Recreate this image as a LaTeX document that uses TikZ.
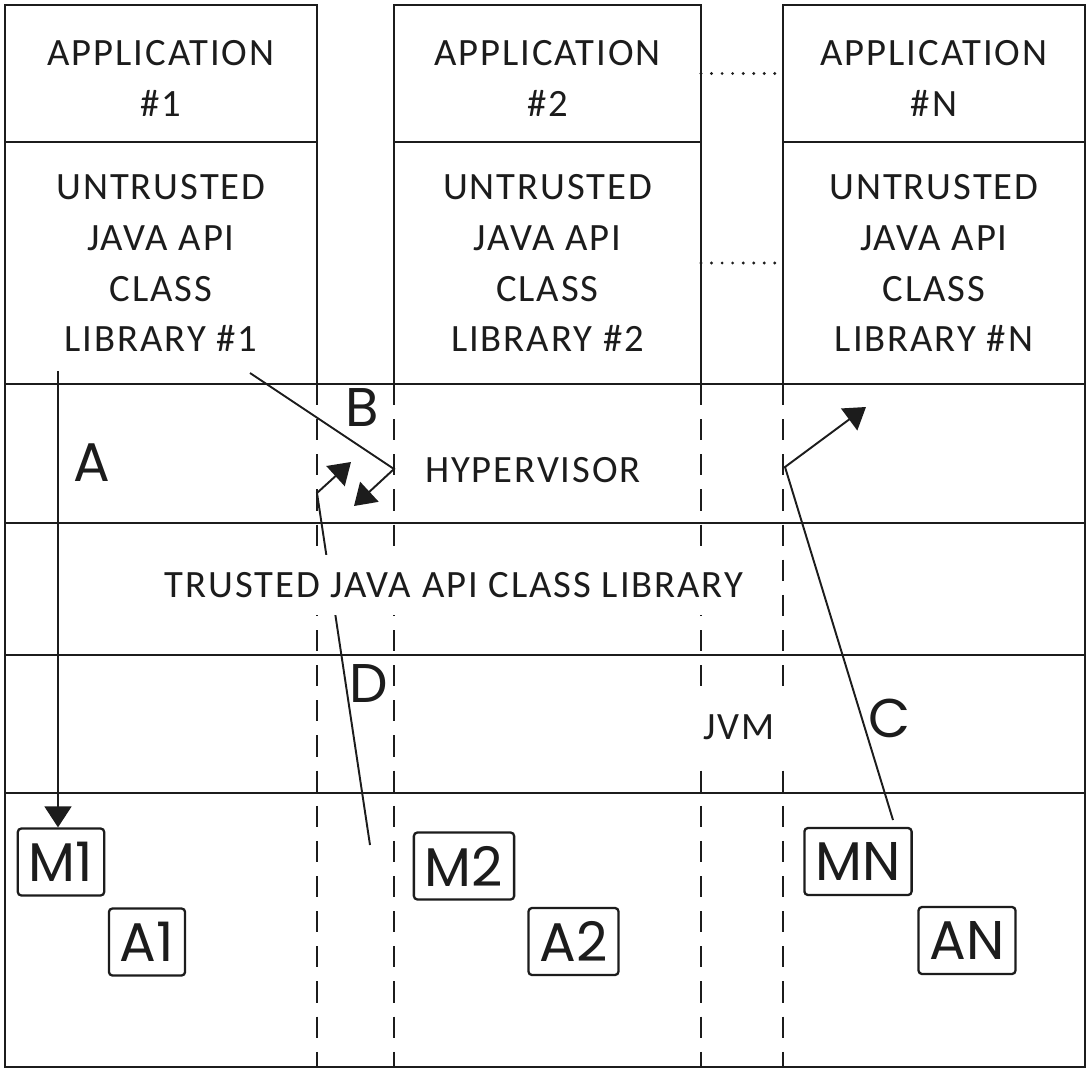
\documentclass[tikz,border=0pt]{standalone}
\usepackage{fontspec}
\setmainfont{Carlito}[LetterSpace=5]
\newfontfamily\geofont{Poppins}
\usetikzlibrary{arrows.meta,positioning,calc}
\definecolor{paper}{HTML}{FFFFFF}
\definecolor{ink}{HTML}{1C1C1C}
\newcommand{\FrameL}{5}
\newcommand{\FrameR}{1085}
\newcommand{\FrameB}{1067}
\newcommand{\HypTop}{384}
\newcommand{\TrustTop}{523}
\newcommand{\JvmTop}{655}
\newcommand{\MemTop}{793}

\begin{document}
\begin{tikzpicture}[
    x=0.2mm, y=-0.2mm, ink,
    font=\fontsize{22}{29}\selectfont,
    layer/.style={draw=ink, line width=1.3pt},
    appbox/.style={draw=ink, line width=1.3pt, inner sep=0pt, outer sep=0pt},
    apptext/.style={align=center, inner sep=0pt},
    sep/.style={draw=ink, line width=1.1pt, dash pattern=on 12pt off 8pt},
    dots/.style={draw=ink, line width=1.8pt, dash pattern=on 0pt off 6pt, line cap=round},
    tag/.style={font=\geofont\fontsize{31}{31}\selectfont, inner sep=0pt},
    membox/.style={draw=ink, line width=1.3pt, rounded corners=2pt, inner xsep=2.2mm, minimum height=13.4mm, font=\geofont\fontsize{31}{31}\selectfont},
    flow/.style={-{Triangle[length=4.2mm,width=5.4mm]}, line width=1.1pt, draw=ink},
  ]
\useasboundingbox[fill=paper] (0,0) rectangle (1087,1070);

% --- The applications and their untrusted class libraries -----------------------
\foreach \i/\cx/\w in {1/161/62.4, 2/547.5/61.4, N/934/60.4} {
  \node[appbox, minimum width=\w mm, minimum height=27.4mm] (app\i) at (\cx,73.5) {};
  \node[appbox, minimum width=\w mm, minimum height=48.4mm, below=0pt of app\i] (lib\i) {};
  \node[apptext] (appT\i) at ([yshift=-0.9mm]app\i.center) {APPLICATION\\\#\i};
  \node[apptext] (libT\i) at (lib\i.center) {UNTRUSTED\\JAVA API\\CLASS\\LIBRARY \#\i};
}
\draw[dots] (app2.east) -- (app2.east -| appN.west);
\draw[dots] (lib2.east) -- (lib2.east -| libN.west);

% --- The shared layers -------------------------------------------------------------
\draw[layer] (\FrameL,\HypTop) rectangle (\FrameR,\FrameB);
\foreach \y in {\TrustTop,\JvmTop,\MemTop}
  \draw[layer] (\FrameL,\y) -- (\FrameR,\y);
\foreach \x in {317,394,701,783}
  \draw[sep] (\x,\HypTop) -- (\x,\FrameB);

% --- Memory and application areas ------------------------------------------------
\node[membox] (m1) at (61,862) {M1};
\node[membox] (a1) at (147,942) {A1};
\node[membox] (m2) at (464,866) {M2};
\node[membox] (a2) at (573.5,941.5) {A2};
\node[membox] (mN) at (858,861.5) {MN};
\node[membox] (aN) at (967,940.5) {AN};

% --- Access paths ------------------------------------------------------------------
\coordinate (aStart) at (58,371);
\coordinate (bStart) at (250,373);
\coordinate (bKnee) at (394,469);
\coordinate (bEnd) at (354,506);
\coordinate (cStart) at (893,820);
\coordinate (cKnee) at (785,467);
\coordinate (cEnd) at (866,407);
\coordinate (dStart) at (370,845);
\coordinate (dKnee) at (317,493);
\coordinate (dEnd) at (351,462);
\draw[flow] (aStart) -- (aStart |- m1.north);
\draw[flow] (bStart) -- (bKnee) -- (bEnd);
\draw[flow] (cStart) -- (cKnee) -- (cEnd);
\draw[flow] (dStart) -- (dKnee) -- (dEnd);

\node (hyp) at (533,470) {HYPERVISOR};
\node[fill=paper, inner xsep=2mm, inner ysep=3.5mm] (trusted) at (454,585) {TRUSTED JAVA API CLASS LIBRARY};
\node[fill=paper, inner xsep=3mm, inner ysep=3.8mm] (jvm) at (739,727) {JVM};

\node[tag] (labA) at (92,463) {A};
\node[tag] (labB) at (362,408) {B};
\node[tag] (labC) at (890,718) {C};
\node[tag] (labD) at (369,684) {D};

\end{tikzpicture}
\end{document}
